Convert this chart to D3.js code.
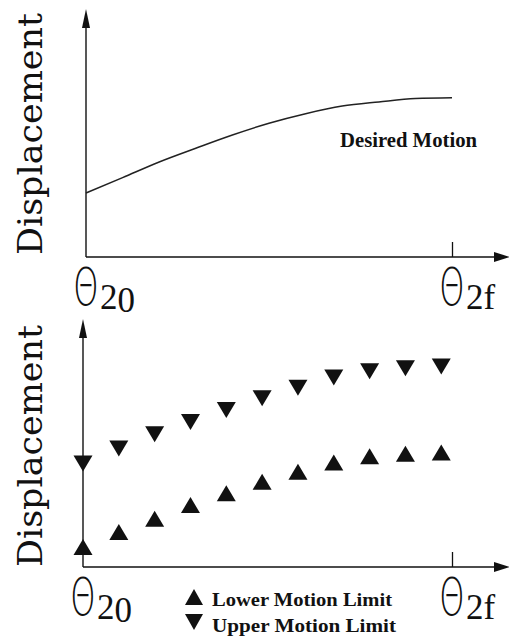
<!DOCTYPE html>
<html>
<head>
<meta charset="utf-8">
<script src="https://cdn.jsdelivr.net/npm/d3@7"></script>
<style>
  html, body { margin: 0; padding: 0; background: #fff; }
  svg { display: block; }
</style>
</head>
<body>
<svg id="chart" width="509" height="639"></svg>
<script>
// Normalised joint angle from theta_2,0 (0) to theta_2,f (1)
const desiredTheta = [0, 0.1, 0.2, 0.3, 0.4, 0.5, 0.6, 0.7, 0.8, 0.9, 1.0];
const desiredDisp  = [2.61, 3.24, 3.88, 4.44, 4.98, 5.46, 5.85, 6.16, 6.33, 6.47, 6.50];

// Sampled motion limits (step index along the joint range)
const limitSteps = [0, 1, 2, 3, 4, 5, 6, 7, 8, 9, 10];
const upperLimit = [4.22, 4.84, 5.42, 5.92, 6.41, 6.89, 7.32, 7.73, 7.99, 8.11, 8.18];
const lowerLimit = [0.82, 1.43, 1.97, 2.53, 3.01, 3.48, 3.89, 4.27, 4.52, 4.62, 4.67];
const limitEndStep = 10.3;

const yTitle = "Displacement";
const curveLabel = "Desired Motion";
const legendItems = ["Lower Motion Limit", "Upper Motion Limit"];
const startSub = ["2", "0"];
const endSub = ["2", "f"];

const svg = d3.select("#chart");
const ink = "#111";

// Panel layouts
const upperPanel = { x: d3.scaleLinear([0, 1], [86, 452]), y: d3.scaleLinear([0, 10], [257, 12]) };
const lowerPanel = { x: d3.scaleLinear([0, limitEndStep], [83, 452]), y: d3.scaleLinear([0, 10], [567, 322]) };

function drawAxes(p, xEnd, tickVal) {
  const g = svg.append("g");
  const x0 = p.x.range()[0], yb = p.y.range()[0], yt = p.y.range()[1];
  // vertical axis with arrow
  g.append("line").attr("x1", x0).attr("x2", x0).attr("y1", yb).attr("y2", yt + 14)
    .attr("stroke", ink).attr("stroke-width", 1.4);
  g.append("path").attr("d", `M${x0},${yt - 3}L${x0 + 4},${yt + 16}L${x0 - 4},${yt + 16}Z`).attr("fill", ink);
  // horizontal axis with arrow
  g.append("line").attr("x1", x0).attr("x2", xEnd - 12).attr("y1", yb).attr("y2", yb)
    .attr("stroke", ink).attr("stroke-width", 1.4);
  g.append("path").attr("d", `M${xEnd + 2},${yb}L${xEnd - 14},${yb - 5}L${xEnd - 14},${yb + 5}Z`).attr("fill", ink);
  // end tick
  const ax = d3.axisTop(p.x).tickValues([tickVal]).tickSize(15).tickSizeOuter(0).tickFormat(() => "");
  const ag = g.append("g").attr("transform", `translate(0,${yb})`).call(ax);
  ag.select(".domain").remove();
  ag.selectAll(".tick line").attr("stroke", ink).attr("stroke-width", 1.3);
}

function thetaLabel(cx, yTopEdge, sub, subDy) {
  const g = svg.append("g");
  g.append("text")
    .attr("transform", `translate(${cx},${yTopEdge + 38}) scale(0.63,1.0)`)
    .attr("text-anchor", "middle")
    .attr("font-family", "DejaVu Sans")
    .attr("font-weight", 200)
    .attr("font-size", 51)
    .attr("fill", ink)
    .text("Θ");
  const t = g.append("text")
    .attr("x", cx + 14).attr("y", yTopEdge + 42)
    .attr("font-family", "Liberation Serif")
    .attr("font-size", 35)
    .attr("fill", ink);
  t.append("tspan").text(sub[0]);
  t.append("tspan").attr("dy", subDy).text(sub[1]);
}

function yLabel(cy) {
  svg.append("text")
    .attr("transform", `translate(42,${cy}) rotate(-90)`)
    .attr("text-anchor", "middle")
    .attr("font-family", "DejaVu Serif")
    .attr("font-size", 34)
    .attr("textLength", 242)
    .attr("lengthAdjust", "spacingAndGlyphs")
    .attr("fill", ink)
    .text(yTitle);
}

function tri(cx, cy, up, w = 19, h = 16) {
  return up
    ? `M${cx},${cy - h / 2}L${cx + w / 2},${cy + h / 2}L${cx - w / 2},${cy + h / 2}Z`
    : `M${cx},${cy + h / 2}L${cx + w / 2},${cy - h / 2}L${cx - w / 2},${cy - h / 2}Z`;
}

// ---- Upper panel: desired motion ----
drawAxes(upperPanel, 508, 1);
yLabel(134);
thetaLabel(upperPanel.x(0), 267, startSub, 3);
thetaLabel(upperPanel.x(1), 267, endSub, 0);

const line = d3.line()
  .x((d, i) => upperPanel.x(desiredTheta[i]))
  .y(d => upperPanel.y(d))
  .curve(d3.curveMonotoneX);
svg.append("path").datum(desiredDisp)
  .attr("d", line).attr("fill", "none").attr("stroke", "#222").attr("stroke-width", 1.5);

svg.append("text")
  .attr("x", 340).attr("y", 147)
  .attr("font-family", "Liberation Serif").attr("font-weight", "bold")
  .attr("font-size", 21).attr("textLength", 137).attr("lengthAdjust", "spacingAndGlyphs")
  .attr("fill", ink).text(curveLabel);

// ---- Lower panel: motion limits ----
drawAxes(lowerPanel, 508, limitEndStep);
yLabel(446);
thetaLabel(lowerPanel.x(0), 577, startSub, 3);
thetaLabel(lowerPanel.x(limitEndStep), 577, endSub, 0);

svg.append("g").selectAll("path").data(upperLimit).join("path")
  .attr("d", (d, i) => tri(lowerPanel.x(limitSteps[i]), lowerPanel.y(d), false))
  .attr("fill", ink);
svg.append("g").selectAll("path").data(lowerLimit).join("path")
  .attr("d", (d, i) => tri(lowerPanel.x(limitSteps[i]), lowerPanel.y(d), true))
  .attr("fill", ink);

// Legend
const leg = svg.append("g");
legendItems.forEach((label, i) => {
  const cy = 597 + i * 25;
  leg.append("path").attr("d", tri(194, cy, i === 0, 18, 16)).attr("fill", ink);
  leg.append("text")
    .attr("x", 212).attr("y", cy + 9 + i * 1)
    .attr("font-family", "Liberation Serif").attr("font-weight", "bold")
    .attr("font-size", 19).attr("textLength", i === 0 ? 180 : 184).attr("lengthAdjust", "spacingAndGlyphs")
    .attr("fill", ink).text(label);
});
</script>
</body>
</html>
